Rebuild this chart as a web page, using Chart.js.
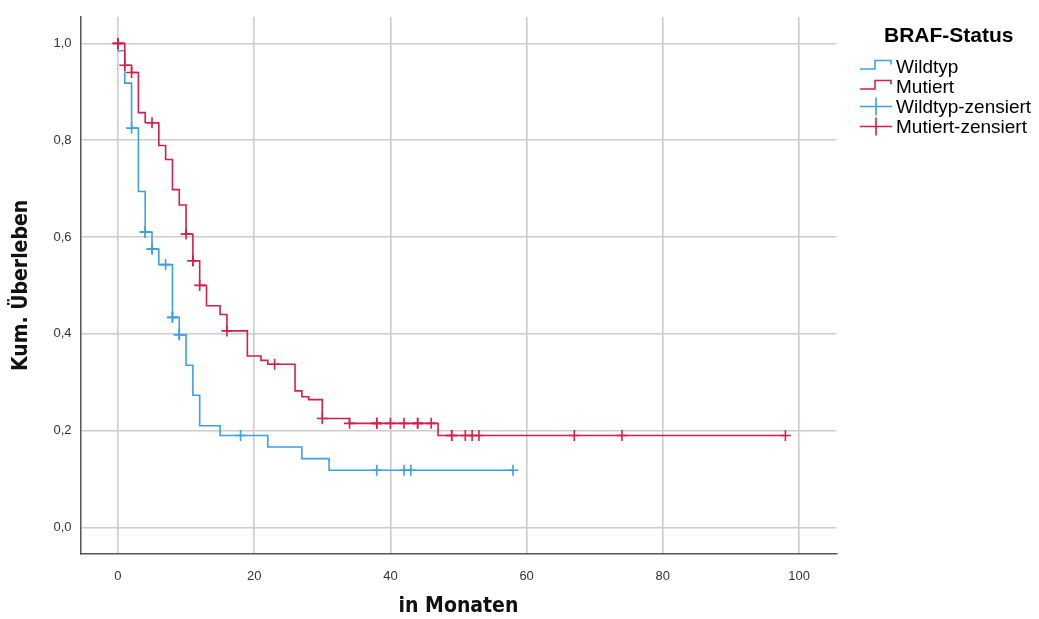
<!DOCTYPE html>
<html lang="de">
<head>
<meta charset="utf-8">
<title>Kaplan-Meier nach BRAF-Status</title>
<script src="https://cdn.jsdelivr.net/npm/chart.js@4.4.1/dist/chart.umd.min.js"></script>
<style>
  html, body { margin: 0; padding: 0; background: #fff; }
  #wrap { width: 1039px; height: 619px; }
</style>
</head>
<body>
<div id="wrap"><canvas id="kmChart" width="1039" height="619"></canvas></div>
<script>
// Kaplan-Meier steps: month of event and cumulative survival right after it
const wildTimes = [0, 0, 1, 2, 3, 4, 5, 6, 8, 9, 10, 11, 12, 15, 22, 27, 31, 58];
const wildSurv = [1.0, 0.985, 0.918, 0.825, 0.694, 0.61, 0.575, 0.543, 0.434, 0.398, 0.335, 0.273, 0.21, 0.19, 0.166, 0.142, 0.118, 0.118];
const wildCensored = [2, 4, 4, 5, 5, 7, 8, 8, 9, 9, 18, 38, 42, 43, 58];

const mutTimes = [0, 1, 2, 3, 4, 6, 7, 8, 9, 10, 11, 12, 13, 15, 16, 19, 21, 22, 26, 27, 28, 30, 34, 47, 98];
const mutSurv = [1.0, 0.955, 0.94, 0.857, 0.836, 0.789, 0.76, 0.698, 0.666, 0.606, 0.551, 0.5, 0.458, 0.44, 0.406, 0.354, 0.345, 0.337, 0.282, 0.27, 0.264, 0.225, 0.215, 0.19, 0.19];
const mutCensored = [0, 0, 1, 2, 5, 10, 11, 11, 12, 16, 23, 30, 34, 38, 38, 40, 42, 44, 44, 46, 49, 49, 51, 52, 53, 67, 74, 98];

const xTicks = [0, 20, 40, 60, 80, 100];
const yTicks = [0, 0.2, 0.4, 0.6, 0.8, 1.0];
const groupNames = ['Wildtyp', 'Mutiert'];
const legendTitle = 'BRAF-Status';

const BLUE = '#3d9fe6';
const RED = '#d41f4a';
const NARROW = "'Liberation Sans Narrow', 'DejaVu Sans Condensed', 'Liberation Sans', sans-serif";
const SANS = "'Liberation Sans', Arial, sans-serif";

function stepPoints(times, surv) {
  return times.map((t, i) => ({ x: t, y: surv[i] }));
}

// survival level in effect at time t (censor marks sit on the curve)
function survivalAt(times, surv, t) {
  let s = surv[0];
  for (let i = 0; i < times.length; i++) {
    if (times[i] <= t) s = surv[i];
  }
  return s;
}

function censorPoints(times, surv, censored) {
  return censored.map(t => ({ x: t, y: survivalAt(times, surv, t) }));
}

const kmLegend = {
  id: 'kmLegend',
  afterDraw(chart) {
    const ctx = chart.ctx;
    ctx.save();
    ctx.fillStyle = '#000';
    ctx.textBaseline = 'alphabetic';
    ctx.font = 'bold 21px ' + SANS;
    ctx.fillText(legendTitle, 884, 42);

    ctx.font = '19px ' + SANS;
    const labels = [groupNames[0], groupNames[1], groupNames[0] + '-zensiert', groupNames[1] + '-zensiert'];
    const colors = [BLUE, RED, BLUE, RED];
    labels.forEach((txt, i) => {
      const base = 73 + i * 20;
      ctx.fillStyle = '#000';
      ctx.fillText(txt, 896, base);
      ctx.strokeStyle = colors[i];
      ctx.lineWidth = 1.6;
      ctx.beginPath();
      if (i < 2) {
        // little step icon
        const lo = base - 4, hi = base - 12.5;
        ctx.moveTo(860, lo);
        ctx.lineTo(875, lo);
        ctx.lineTo(875, hi);
        ctx.lineTo(891, hi);
        ctx.lineTo(891, hi + 4);
      } else {
        // censor cross icon
        const cy = base - 6.5;
        ctx.moveTo(860, cy);
        ctx.lineTo(892, cy);
        ctx.moveTo(876, cy - 9);
        ctx.lineTo(876, cy + 9);
      }
      ctx.stroke();
    });
    ctx.restore();
  }
};

new Chart(document.getElementById('kmChart'), {
  type: 'line',
  data: {
    datasets: [
      {
        label: groupNames[1] + '-zensiert',
        data: censorPoints(mutTimes, mutSurv, mutCensored),
        showLine: false,
        pointStyle: 'cross',
        pointRadius: 5.5,
        borderColor: RED,
        borderWidth: 1.6,
        order: 0
      },
      {
        label: groupNames[1],
        data: stepPoints(mutTimes, mutSurv),
        stepped: 'before',
        borderColor: RED,
        borderWidth: 1.6,
        pointRadius: 0,
        fill: false,
        order: 1
      },
      {
        label: groupNames[0] + '-zensiert',
        data: censorPoints(wildTimes, wildSurv, wildCensored),
        showLine: false,
        pointStyle: 'cross',
        pointRadius: 5.5,
        borderColor: BLUE,
        borderWidth: 1.6,
        order: 2
      },
      {
        label: groupNames[0],
        data: stepPoints(wildTimes, wildSurv),
        stepped: 'before',
        borderColor: BLUE,
        borderWidth: 1.6,
        pointRadius: 0,
        fill: false,
        order: 3
      }
    ]
  },
  options: {
    responsive: false,
    animation: false,
    layout: { padding: { top: 12, right: 202.5, left: 0, bottom: 0 } },
    plugins: {
      legend: { display: false },
      tooltip: { enabled: false }
    },
    scales: {
      x: {
        type: 'linear',
        min: -5.5,
        max: 105.5,
        afterBuildTicks: s => { s.ticks = xTicks.map(v => ({ value: v })); },
        afterFit: s => { s.height = 65; },
        grid: { color: '#cccccc', lineWidth: 1.6, drawTicks: false },
        border: { color: '#555555', width: 1.5 },
        ticks: { padding: 15, color: '#333', font: { family: SANS, size: 13 } },
        title: {
          display: true,
          text: 'in Monaten',
          color: '#111',
          padding: { top: 0, bottom: 2 },
          font: { family: NARROW, size: 21, weight: 'bold', lineHeight: 1 }
        }
      },
      y: {
        type: 'linear',
        min: -0.055,
        max: 1.055,
        afterBuildTicks: s => { s.ticks = yTicks.map(v => ({ value: v })); },
        afterFit: s => { s.width = 80.5; },
        grid: { color: '#cccccc', lineWidth: 1.6, drawTicks: false },
        border: { color: '#555555', width: 1.5 },
        ticks: {
          padding: 9,
          color: '#333',
          font: { family: SANS, size: 13 },
          callback: v => v.toFixed(1).replace('.', ',')
        },
        title: {
          display: true,
          text: 'Kum. Überleben',
          color: '#111',
          padding: { top: 11, bottom: 0 },
          font: { family: NARROW, size: 21, weight: 'bold', lineHeight: 1 }
        }
      }
    }
  },
  plugins: [kmLegend]
});
</script>
</body>
</html>
